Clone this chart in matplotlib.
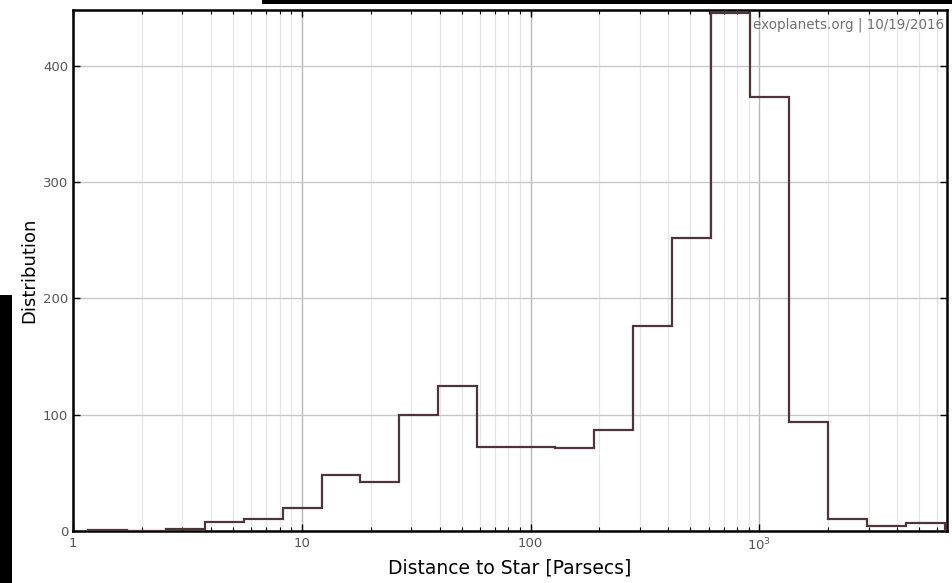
import math
import matplotlib
matplotlib.use("Agg")
import matplotlib.pyplot as plt
from matplotlib.patches import Rectangle
from matplotlib.ticker import LogLocator, FixedLocator, FuncFormatter, NullFormatter

# log-spaced bin edges (parsecs)
bin_edges = [1.161, 1.718, 2.542, 3.763, 5.569, 8.242, 12.20, 18.05, 26.72,
             39.54, 58.52, 86.70, 128.3, 189.9, 281.1, 416.0, 615.7, 911.2,
             1349, 1997, 2956, 4375, 6475]
counts = [1, 0, 2, 8, 10, 20, 48, 42, 100, 125, 72, 72, 71, 87, 176, 252,
          445, 373, 94, 10, 4, 7]
y_ticks = [0, 100, 200, 300, 400]
stamp = "exoplanets.org | 10/19/2016"

fig = plt.figure(figsize=(9.52, 5.83), dpi=100)
ax = fig.add_axes([0.0767, 0.0892, 0.918, 0.8937])

ax.stairs(counts, bin_edges, color="#4f3439", linewidth=1.6, zorder=3)

ax.set_xscale("log")
ax.set_xlim(1, 6607)
ax.set_ylim(0, 448)

ax.xaxis.set_major_locator(FixedLocator([1, 10, 100, 1000]))
ax.xaxis.set_minor_locator(LogLocator(base=10, subs=range(2, 10), numticks=20))
ax.xaxis.set_minor_formatter(NullFormatter())


def xfmt(v, pos):
    if v >= 1000:
        return r"$10^{%d}$" % round(math.log10(v))
    return "%d" % v


ax.xaxis.set_major_formatter(FuncFormatter(xfmt))
ax.set_yticks(y_ticks)

ax.grid(True, which="major", axis="y", color="#c8c8c8", linewidth=1.0)
ax.grid(True, which="major", axis="x", color="#b8b8b8", linewidth=1.0)
ax.grid(True, which="minor", axis="x", color="#e6e6e6", linewidth=0.9)
ax.set_axisbelow(True)

ax.tick_params(which="both", direction="in", top=True, right=True,
               colors="black", labelcolor="#555555", labelsize=9.5)
ax.tick_params(which="major", length=5, width=1)
ax.tick_params(which="minor", length=3, width=0.8)
ax.tick_params(axis="x", pad=4)

for s in ax.spines.values():
    s.set_linewidth(1.8)
    s.set_color("black")

ax.set_xlabel("Distance to Star [Parsecs]", fontsize=13.5, labelpad=4)
ax.set_ylabel("Distribution", fontsize=13, labelpad=3)

ax.text(0.997, 0.985, stamp, transform=ax.transAxes, ha="right", va="top",
        fontsize=9.75, color="#707070")

# screenshot borders visible in the reference
fig.patches.append(Rectangle((0, 0), 12 / 952, 288 / 583, transform=fig.transFigure,
                             facecolor="black", edgecolor="none", zorder=10))
fig.patches.append(Rectangle((262 / 952, 579 / 583), 690 / 952, 4 / 583,
                             transform=fig.transFigure, facecolor="black",
                             edgecolor="none", zorder=10))

fig.savefig("out.png", dpi=100)
